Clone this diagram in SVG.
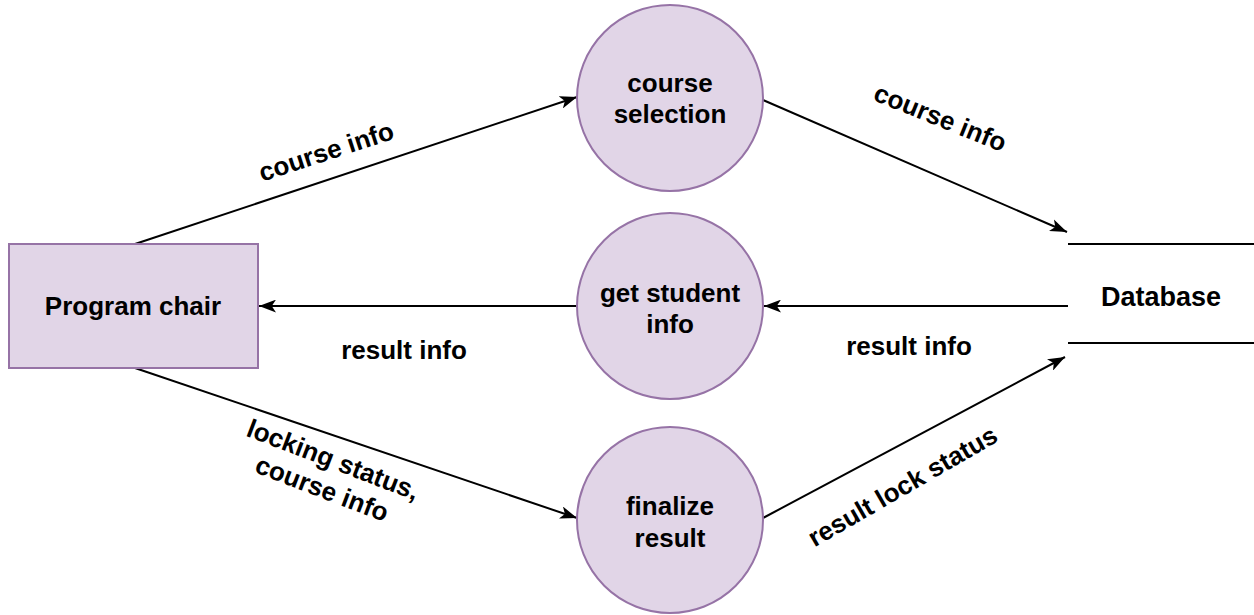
<svg xmlns="http://www.w3.org/2000/svg" width="1254" height="615" viewBox="0 0 1254 615">
<style>
.node{fill:#e1d5e7;stroke:#9673a6;stroke-width:2}
.t{font-family:"Liberation Sans",Arial,sans-serif;font-weight:bold;font-size:26px;fill:#000;text-anchor:middle}
.e{stroke:#000;stroke-width:2;fill:none;marker-end:url(#arr)}
.db{stroke:#000;stroke-width:2}
</style>
<defs>
<marker id="arr" viewBox="0 0 16 12" refX="16" refY="6" markerWidth="17" markerHeight="13" markerUnits="userSpaceOnUse" orient="auto">
<path d="M0,0 L16,6 L0,12 L4,6 Z" fill="#000"/>
</marker>
</defs>
<rect width="1254" height="615" fill="#fff"/>
<g id="connectors">
<line class="e" x1="135" y1="244" x2="577" y2="97"/>
<line class="e" x1="763" y1="100" x2="1067" y2="232"/>
<line class="e" x1="1068" y1="306" x2="764" y2="306"/>
<line class="e" x1="577" y1="306" x2="259" y2="306"/>
<line class="e" x1="135" y1="368" x2="577" y2="518"/>
<line class="e" x1="763" y1="518" x2="1065" y2="357"/>
</g>
<g id="labels">
<text class="t" transform="translate(329,160) rotate(-18)">course info</text>
<text class="t" transform="translate(937,126) rotate(22)">course info</text>
<text class="t" x="404" y="359">result info</text>
<text class="t" x="909" y="355">result info</text>
<g transform="translate(330,468) rotate(21)">
<text class="t" x="0" y="0">locking status,</text>
<text class="t" x="0" y="31">course info</text>
</g>
<text class="t" transform="translate(907,494) rotate(-30)">result lock status</text>
</g>
<g id="program-chair">
<rect class="node" x="9" y="244" width="249" height="124"/>
<text class="t" x="133" y="315">Program chair</text>
</g>
<g id="course-selection">
<circle class="node" cx="670" cy="98" r="93"/>
<text class="t" x="670" y="92">course</text>
<text class="t" x="670" y="123">selection</text>
</g>
<g id="get-student-info">
<circle class="node" cx="670" cy="306" r="93"/>
<text class="t" x="670" y="302">get student</text>
<text class="t" x="670" y="333">info</text>
</g>
<g id="finalize-result">
<circle class="node" cx="670" cy="520" r="93"/>
<text class="t" x="670" y="515">finalize</text>
<text class="t" x="670" y="547">result</text>
</g>
<g id="database">
<line class="db" x1="1068" y1="244" x2="1254" y2="244"/>
<line class="db" x1="1068" y1="343" x2="1254" y2="343"/>
<text class="t" x="1161" y="306" style="font-size:27px">Database</text>
</g>
</svg>
